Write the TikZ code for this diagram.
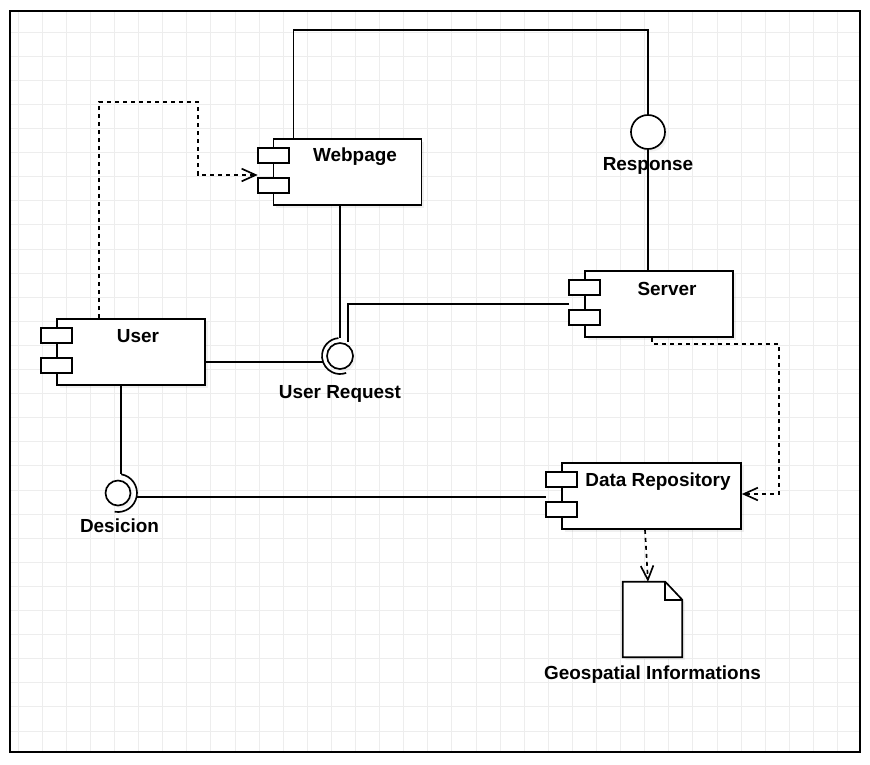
\documentclass[tikz,border=0pt]{standalone}
\usepackage{fontspec}
\setmainfont{Liberation Sans}
\usetikzlibrary{arrows.meta, positioning, shadows}

\begin{document}
\begin{tikzpicture}[
    x=0.75pt, y=-0.75pt,
    font=\fontsize{14.2}{17}\selectfont\bfseries,
    comp/.style={rectangle, draw, line width=1.25pt, fill=white, minimum width=111pt, minimum height=49.5pt, inner sep=0pt, drop shadow={opacity=0.12, shadow xshift=2pt, shadow yshift=-2pt}},
    tab/.style={draw, line width=1.25pt, fill=white},
    ball/.style={circle, draw, line width=1.25pt, fill=white, inner sep=0pt, minimum size=19.5pt, drop shadow={opacity=0.1, shadow xshift=2pt, shadow yshift=-2pt}},
    lbl/.style={inner sep=0pt},
    wire/.style={line width=1.25pt},
    dep/.style={line width=1.25pt, dash pattern=on 3pt off 3pt, -{Straight Barb[length=10.5pt, width=9.5pt]}},
    gridline/.style={gray!14, line width=0.5pt}
]
    \useasboundingbox (0,0) rectangle (870,764);

    % background grid and frame
    \foreach \gx in {0,...,34}
        \draw[gridline] (18+24.1*\gx, 11) -- (18+24.1*\gx, 752);
    \foreach \gy in {1,...,30}
        \draw[gridline] (10, 7.9+24.1*\gy) -- (860, 7.9+24.1*\gy);
    \draw[line width=1.5pt] (10,11) rectangle (860,752);

    % components
    \node (web) [comp] at (347.5,172) {};
    \node (srv) [comp] at (659,304) {};
    \node (usr) [comp] at (131,352) {};
    \node (repo) [comp, minimum width=134.25pt] at (651.5,496) {};

    \foreach \c in {web, srv, usr, repo} {
        \draw[tab] ([shift={(-15,10)}]\c.north west) rectangle ([shift={(16,25)}]\c.north west);
        \draw[tab] ([shift={(-15,40)}]\c.north west) rectangle ([shift={(16,55)}]\c.north west);
    }

    \node (webtxt) [lbl] at ([shift={(7.5,18)}]web.north) {Webpage};
    \node (srvtxt) [lbl] at ([shift={(8,18.5)}]srv.north) {Server};
    \node (usrtxt) [lbl] at ([shift={(7,18)}]usr.north) {User};
    \node (repotxt) [lbl] at ([shift={(6.5,19)}]repo.north) {Data Repository};

    % interfaces
    \node (resp) [ball, minimum size=25.5pt] at (648,132) {};
    \node (ureq) [ball] at (340,356) {};
    \node (dec) [ball, minimum size=18.75pt] at (118,493) {};

    \draw[wire] ([shift={(-95:18)}]ureq.center) arc[start angle=-95, end angle=-290, radius=18];
    \draw[wire] ([shift={(-80:19)}]dec.center) arc[start angle=-80, end angle=100, radius=19];

    \node (resplbl) [lbl] at (648,166) {Response};
    \node (ureqlbl) [lbl] at (340,394) {User Request};
    \node (declbl) [lbl] at (119.5,526) {Desicion};

    % document
    \node (doc) [minimum width=44.25pt, minimum height=56.25pt, inner sep=0pt] at (652.5,619.5) {};
    \draw[wire, fill=white, drop shadow={opacity=0.1, shadow xshift=2pt, shadow yshift=-2pt}]
        (doc.north west) -- ([shift={(-17,0)}]doc.north east) -- ([shift={(0,18)}]doc.north east)
        -- (doc.south east) -- (doc.south west) -- cycle;
    \draw[wire] ([shift={(-17,0)}]doc.north east) -- ([shift={(-17,18)}]doc.north east) -- ([shift={(0,18)}]doc.north east);
    \node (doclbl) [lbl] at ([shift={(0,17)}]doc.south) {Geospatial Informations};

    % connector ends
    \coordinate (webtab) at ([shift={(-15,3)}]web.west);
    \coordinate (srvtab) at ([shift={(-15,0)}]srv.west);
    \coordinate (repotab) at ([shift={(-15,0)}]repo.west);
    \coordinate (urtop) at ([shift={(0,-18)}]ureq.center);
    \coordinate (urleft) at ([shift={(-17,6)}]ureq.center);
    \coordinate (urne) at ([shift={(8,-14)}]ureq.center);
    \coordinate (decup) at ([shift={(-80:19)}]dec.center);
    \coordinate (decrt) at ([shift={(19,4)}]dec.center);

    % connectors
    \draw[wire] ([shift={(-54,0)}]web.north) -- ++(0,-108) -| (resp.north);
    \draw[wire] (resp.south) -- (resp.south |- srv.north);
    \draw[wire] (web.south -| urtop) -- (urtop);
    \draw[wire] (srvtab) -| (urne);
    \draw[wire] (usr.east |- urleft) -- (urleft);
    \draw[wire] (usr.south -| decup) -- (decup);
    \draw[wire] (decrt) -- (decrt -| repotab);

    \draw[dep] ([shift={(-32,0)}]usr.north) -- ++(0,-216) -- ++(99,0) |- (webtab);
    \draw[dep] ([shift={(-7,0)}]srv.south) -- ++(0,6) -| ([shift={(37,-2)}]repo.east) -- ([shift={(0,-2)}]repo.east);
    \draw[dep] ([shift={(-6.5,0)}]repo.south) -- ([shift={(-4.5,0)}]doc.north);
\end{tikzpicture}
\end{document}
